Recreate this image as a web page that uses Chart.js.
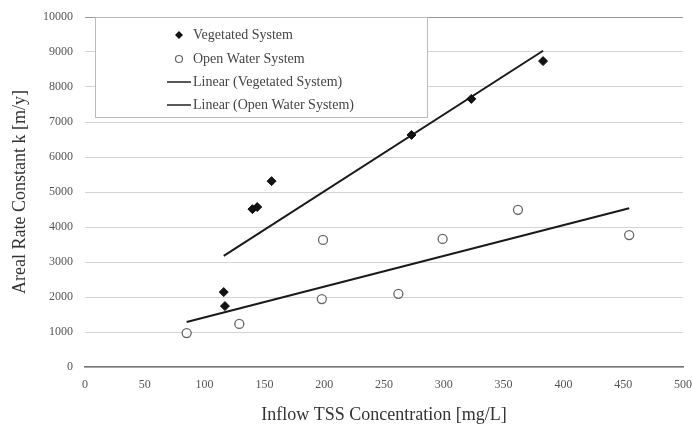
<!DOCTYPE html>
<html>
<head>
<meta charset="utf-8">
<script src="https://cdn.jsdelivr.net/npm/chart.js@4.4.0/dist/chart.umd.min.js"></script>
<style>
  html, body { margin:0; padding:0; background:#fff; }
  #wrap { width:692px; height:426px; }
</style>
</head>
<body>
<div id="wrap"><canvas id="c" width="692" height="426"></canvas></div>
<script>
/* ---------- dados ---------- */
const vegX  = [116, 117, 140, 144, 156, 273, 323, 383];
const vegY  = [2140, 1740, 4510, 4570, 5310, 6630, 7660, 8740];
const openX = [85, 129, 198, 199, 262, 299, 362, 455];
const openY = [970, 1230, 1940, 3630, 2090, 3660, 4490, 3770];
const yTicks = [0,1000,2000,3000,4000,5000,6000,7000,8000,9000,10000];
const xTicks = [0,50,100,150,200,250,300,350,400,450,500];
const legendLabels = ["Vegetated System","Open Water System","Linear (Vegetated System)","Linear (Open Water System)"];

const pts = (xs, ys) => xs.map((x,i)=>({x, y:ys[i]}));

// linha de tendência (mínimos quadrados), do menor ao maior x
function tendencia(xs, ys){
  const n = xs.length;
  const mx = xs.reduce((a,b)=>a+b,0)/n, my = ys.reduce((a,b)=>a+b,0)/n;
  let sxx=0, sxy=0;
  xs.forEach((x,i)=>{ sxx += (x-mx)*(x-mx); sxy += (x-mx)*(ys[i]-my); });
  const m = sxy/sxx, b = my - m*mx;
  const x0 = Math.min(...xs), x1 = Math.max(...xs);
  return [{x:x0, y:m*x0+b}, {x:x1, y:m*x1+b}];
}

const FONT = "'Liberation Serif', 'DejaVu Serif', serif";

/* ---------- legenda desenhada dentro da área ---------- */
const legendaPlugin = {
  id: "legendaInterna",
  afterDraw(chart){
    const ctx = chart.ctx;
    const bx = 95, by = 17, bw = 332, bh = 100;
    ctx.save();
    ctx.fillStyle = "#fff";
    ctx.fillRect(bx, by, bw, bh);
    ctx.strokeStyle = "#bbb";
    ctx.lineWidth = 1;
    ctx.strokeRect(bx+0.5, by+0.5, bw, bh);
    ctx.font = "14px " + FONT;
    ctx.fillStyle = "#444";
    ctx.textBaseline = "middle";
    const ys = [35, 59, 82, 105];
    legendLabels.forEach((t,i)=>{ ctx.fillText(t, 193, ys[i]); });
    // marcador cheio (losango)
    ctx.fillStyle = "#111";
    ctx.beginPath();
    ctx.moveTo(179, 31); ctx.lineTo(183, 35); ctx.lineTo(179, 39); ctx.lineTo(175, 35);
    ctx.closePath(); ctx.fill();
    // marcador vazio
    ctx.strokeStyle = "#666"; ctx.lineWidth = 1.2;
    ctx.beginPath(); ctx.arc(179, 59, 3.5, 0, Math.PI*2); ctx.stroke();
    // linhas
    ctx.strokeStyle = "#222"; ctx.lineWidth = 1.5;
    [82,105].forEach(y=>{ ctx.beginPath(); ctx.moveTo(167,y); ctx.lineTo(191,y); ctx.stroke(); });
    ctx.restore();
  }
};

new Chart(document.getElementById("c"), {
  type: "scatter",
  data: {
    datasets: [
      { label: legendLabels[0], data: pts(vegX, vegY), pointStyle: "rectRot",
        pointRadius: 4.5, backgroundColor: "#111", borderColor: "#111", borderWidth: 1 },
      { label: legendLabels[1], data: pts(openX, openY), pointStyle: "circle",
        pointRadius: 4.5, backgroundColor: "#fff", borderColor: "#666", borderWidth: 1.3 },
      { type: "line", label: legendLabels[2], data: tendencia(vegX, vegY),
        borderColor: "#1a1a1a", borderWidth: 2, pointRadius: 0, fill: false },
      { type: "line", label: legendLabels[3], data: tendencia(openX, openY),
        borderColor: "#1a1a1a", borderWidth: 2, pointRadius: 0, fill: false }
    ]
  },
  options: {
    responsive: false,
    animation: false,
    layout: { padding: { left: 0, top: 17, right: 0, bottom: 0 } },
    plugins: { legend: { display: false }, tooltip: { enabled: false } },
    scales: {
      x: {
        type: "linear", min: 0, max: 500,
        afterBuildTicks: (s) => { s.ticks = xTicks.map(v=>({value:v})); },
        afterFit: (s) => { s.height = 59; s.paddingRight = 9; },
        grid: { display: false, drawTicks: false },
        border: { display: true, color: "#777", width: 1.5 },
        ticks: { padding: 11, color: "#555", font: { family: FONT, size: 12 }, maxRotation: 0 },
        title: { display: true, text: "Inflow TSS Concentration [mg/L]", color: "#333",
                 font: { family: FONT, size: 18 }, padding: { top: 2, bottom: 0 } }
      },
      y: {
        type: "linear", min: 0, max: 10000,
        afterBuildTicks: (s) => { s.ticks = yTicks.map(v=>({value:v})); },
        afterFit: (s) => { s.width = 85; s.paddingTop = 0; s.paddingBottom = 0; },
        grid: { drawTicks: false, color: (c) => c.tick && c.tick.value === 10000 ? "#999" : "#d4d4d4", lineWidth: 1 },
        border: { display: false },
        ticks: { padding: 12, color: "#555", font: { family: FONT, size: 12 }, callback: (v) => String(v) },
        title: { display: true, text: "Areal Rate Constant k [m/y]", color: "#333",
                 font: { family: FONT, size: 18 }, padding: { top: 9, bottom: 4 } }
      }
    }
  },
  plugins: [legendaPlugin]
});
</script>
</body>
</html>
